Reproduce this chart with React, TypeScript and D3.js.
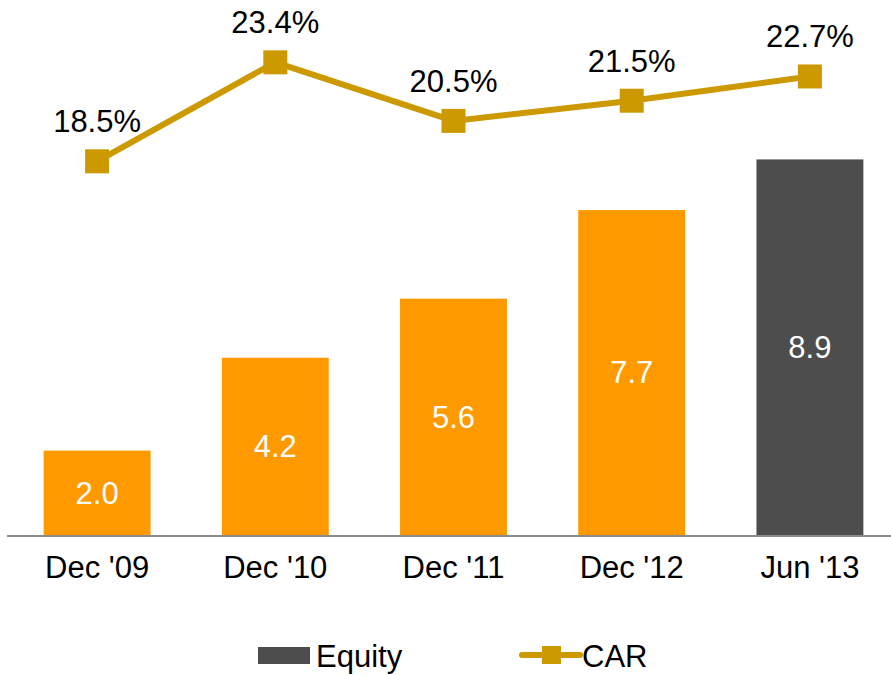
import React, { useRef, useEffect } from "react";
import * as d3 from "d3";

const categories = ["Dec '09", "Dec '10", "Dec '11", "Dec '12", "Jun '13"];
const equity = [2.0, 4.2, 5.6, 7.7, 8.9];
const car = [18.5, 23.4, 20.5, 21.5, 22.7];

const ORANGE = "#FF9900";
const DARK = "#4D4D4D";
const GOLD = "#CC9900";
const FONT = "'Liberation Sans', Arial, sans-serif";
const FS = 31;

const App = () => {
  const svgRef = useRef<SVGSVGElement>(null);
  const width = 891;
  const height = 675;

  useEffect(() => {
    const svg = d3.select(svgRef.current);
    svg.selectAll("*").remove();

    const baseline = 535;

    const x = d3
      .scaleBand()
      .domain(categories)
      .range([8, 899])
      .paddingInner(0.4)
      .paddingOuter(0.2);

    const yBar = d3.scaleLinear().domain([0, 10]).range([baseline, 113]);
    const yLine = d3.scaleLinear().domain([0, 25]).range([baseline, 30]);

    // bars
    svg
      .append("g")
      .selectAll("rect")
      .data(equity)
      .join("rect")
      .attr("x", (d, i) => x(categories[i])!)
      .attr("y", (d) => yBar(d))
      .attr("width", x.bandwidth())
      .attr("height", (d) => baseline - yBar(d))
      .attr("fill", (d, i) => (i === equity.length - 1 ? DARK : ORANGE));

    // bar labels
    svg
      .append("g")
      .selectAll("text")
      .data(equity)
      .join("text")
      .attr("x", (d, i) => x(categories[i])! + x.bandwidth() / 2)
      .attr("y", (d) => (yBar(d) + baseline) / 2)
      .attr("dy", "0.35em")
      .attr("text-anchor", "middle")
      .attr("fill", "#fff")
      .style("font", `${FS}px ${FONT}`)
      .text((d) => d.toFixed(1));

    // x axis line
    svg
      .append("line")
      .attr("x1", 7)
      .attr("x2", width)
      .attr("y1", baseline + 1)
      .attr("y2", baseline + 1)
      .attr("stroke", "#8C8C8C")
      .attr("stroke-width", 2);

    // category labels
    svg
      .append("g")
      .selectAll("text")
      .data(categories)
      .join("text")
      .attr("x", (d) => x(d)! + x.bandwidth() / 2)
      .attr("y", 578)
      .attr("text-anchor", "middle")
      .attr("fill", "#000")
      .style("font", `${FS}px ${FONT}`)
      .text((d) => d);

    // CAR line
    const line = d3
      .line<number>()
      .x((d, i) => x(categories[i])! + x.bandwidth() / 2)
      .y((d) => yLine(d));

    svg
      .append("path")
      .datum(car)
      .attr("fill", "none")
      .attr("stroke", GOLD)
      .attr("stroke-width", 6)
      .attr("d", line);

    svg
      .append("g")
      .selectAll("rect")
      .data(car)
      .join("rect")
      .attr("x", (d, i) => x(categories[i])! + x.bandwidth() / 2 - 12)
      .attr("y", (d) => yLine(d) - 12)
      .attr("width", 24)
      .attr("height", 24)
      .attr("fill", GOLD);

    svg
      .append("g")
      .selectAll("text")
      .data(car)
      .join("text")
      .attr("x", (d, i) => x(categories[i])! + x.bandwidth() / 2)
      .attr("y", (d) => yLine(d) - 29)
      .attr("text-anchor", "middle")
      .attr("fill", "#000")
      .style("font", `${FS}px ${FONT}`)
      .text((d) => d.toFixed(1) + "%");

    // legend
    const legend = svg.append("g");
    legend
      .append("rect")
      .attr("x", 258)
      .attr("y", 647)
      .attr("width", 52)
      .attr("height", 17)
      .attr("fill", DARK);
    legend
      .append("text")
      .attr("x", 316)
      .attr("y", 667)
      .attr("fill", "#000")
      .style("font", `${FS}px ${FONT}`)
      .text("Equity");

    legend
      .append("line")
      .attr("x1", 522)
      .attr("x2", 580)
      .attr("y1", 655)
      .attr("y2", 655)
      .attr("stroke", GOLD)
      .attr("stroke-width", 6)
      .attr("stroke-linecap", "round");
    legend
      .append("rect")
      .attr("x", 542)
      .attr("y", 646)
      .attr("width", 19)
      .attr("height", 18)
      .attr("fill", GOLD);
    legend
      .append("text")
      .attr("x", 582)
      .attr("y", 667)
      .attr("fill", "#000")
      .style("font", `${FS}px ${FONT}`)
      .text("CAR");
  }, []);

  return (
    <svg
      ref={svgRef}
      width={width}
      height={height}
      style={{ position: "absolute", left: 0, top: 0, background: "#fff" }}
    ></svg>
  );
};

export default App;
